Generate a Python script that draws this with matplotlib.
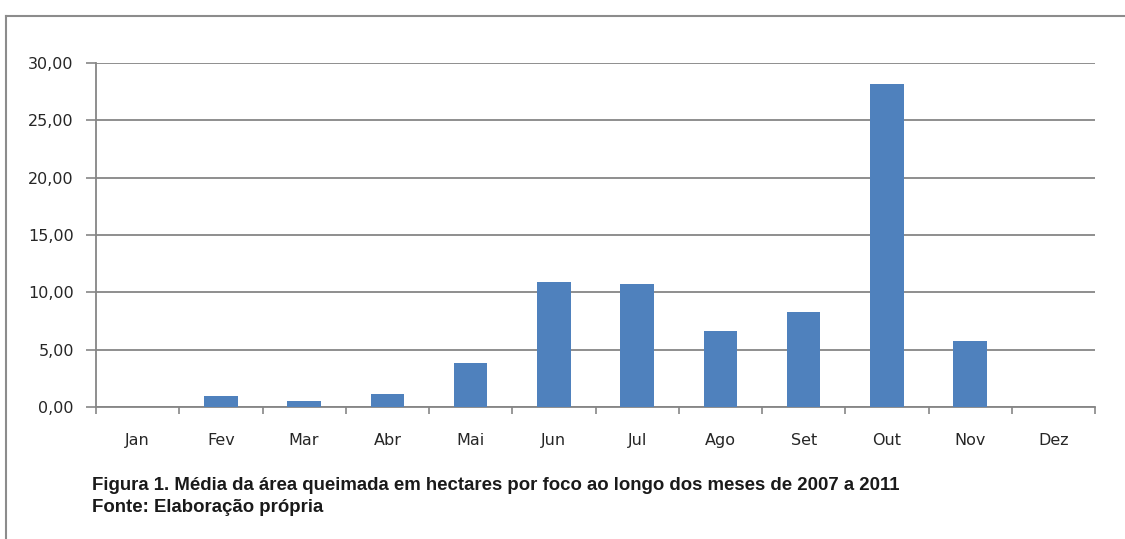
import matplotlib
matplotlib.use("Agg")
import matplotlib.pyplot as plt
from matplotlib.lines import Line2D
from matplotlib.ticker import FuncFormatter

months = ["Jan", "Fev", "Mar", "Abr", "Mai", "Jun", "Jul", "Ago", "Set", "Out", "Nov", "Dez"]
values = [0.0, 0.99, 0.50, 1.13, 3.86, 10.93, 10.75, 6.60, 8.31, 28.13, 5.73, 0.0]
yticks = [0, 5, 10, 15, 20, 25, 30]
caption1 = "Figura 1. Média da área queimada em hectares por foco ao longo dos meses de 2007 a 2011"
caption2 = "Fonte: Elaboração própria"

W, H = 1125, 539
fig = plt.figure(figsize=(W / 100, H / 100), dpi=100)
fig.patch.set_facecolor("white")

def fx(px):
    return px / W

def fy(py):
    return 1 - py / H

ax = fig.add_axes([fx(96), fy(407), fx(1095) - fx(96), fy(63) - fy(407)])

x = list(range(len(months)))
ax.bar(x, values, width=0.4, color="#4F81BD", zorder=3)

ax.set_xlim(-0.5, len(months) - 0.5)
ax.set_ylim(0, 30)
ax.set_yticks(yticks)
ax.yaxis.set_major_formatter(FuncFormatter(lambda v, p: f"{v:.2f}".replace(".", ",")))
ax.grid(axis="y", color="#868686", linewidth=1.3, zorder=0)

ax.set_xticks(x)
ax.set_xticklabels(months, family="DejaVu Sans")
ax.set_xticks([i - 0.5 for i in range(len(months) + 1)], minor=True)
ax.tick_params(axis="x", which="major", length=0, pad=19, labelsize=11.5, labelcolor="#262626")
ax.tick_params(axis="x", which="minor", length=5, width=1.2, color="#868686", direction="out")
ax.tick_params(axis="y", which="major", length=7, width=1.2, color="#868686", pad=9,
               labelsize=11.5, labelcolor="#262626")
for lbl in ax.get_yticklabels():
    lbl.set_family("DejaVu Sans")

for s in ["top", "right"]:
    ax.spines[s].set_visible(False)
for s in ["left", "bottom"]:
    ax.spines[s].set_color("#868686")
    ax.spines[s].set_linewidth(1.3)

# outer chart border
fig.add_artist(Line2D([fx(6), fx(6)], [fy(16), 0], transform=fig.transFigure,
                      color="#8C8C8C", linewidth=1.5))
fig.add_artist(Line2D([fx(6), 1], [fy(16), fy(16)], transform=fig.transFigure,
                      color="#8C8C8C", linewidth=1.5))

fig.text(fx(92), fy(486), caption1, fontsize=13.4, fontweight="bold",
         family="Liberation Sans", color="#1a1a1a", va="center", ha="left")
fig.text(fx(92), fy(507), caption2, fontsize=13.4, fontweight="bold",
         family="Liberation Sans", color="#1a1a1a", va="center", ha="left")

fig.savefig("out.png", dpi=100, facecolor="white")
